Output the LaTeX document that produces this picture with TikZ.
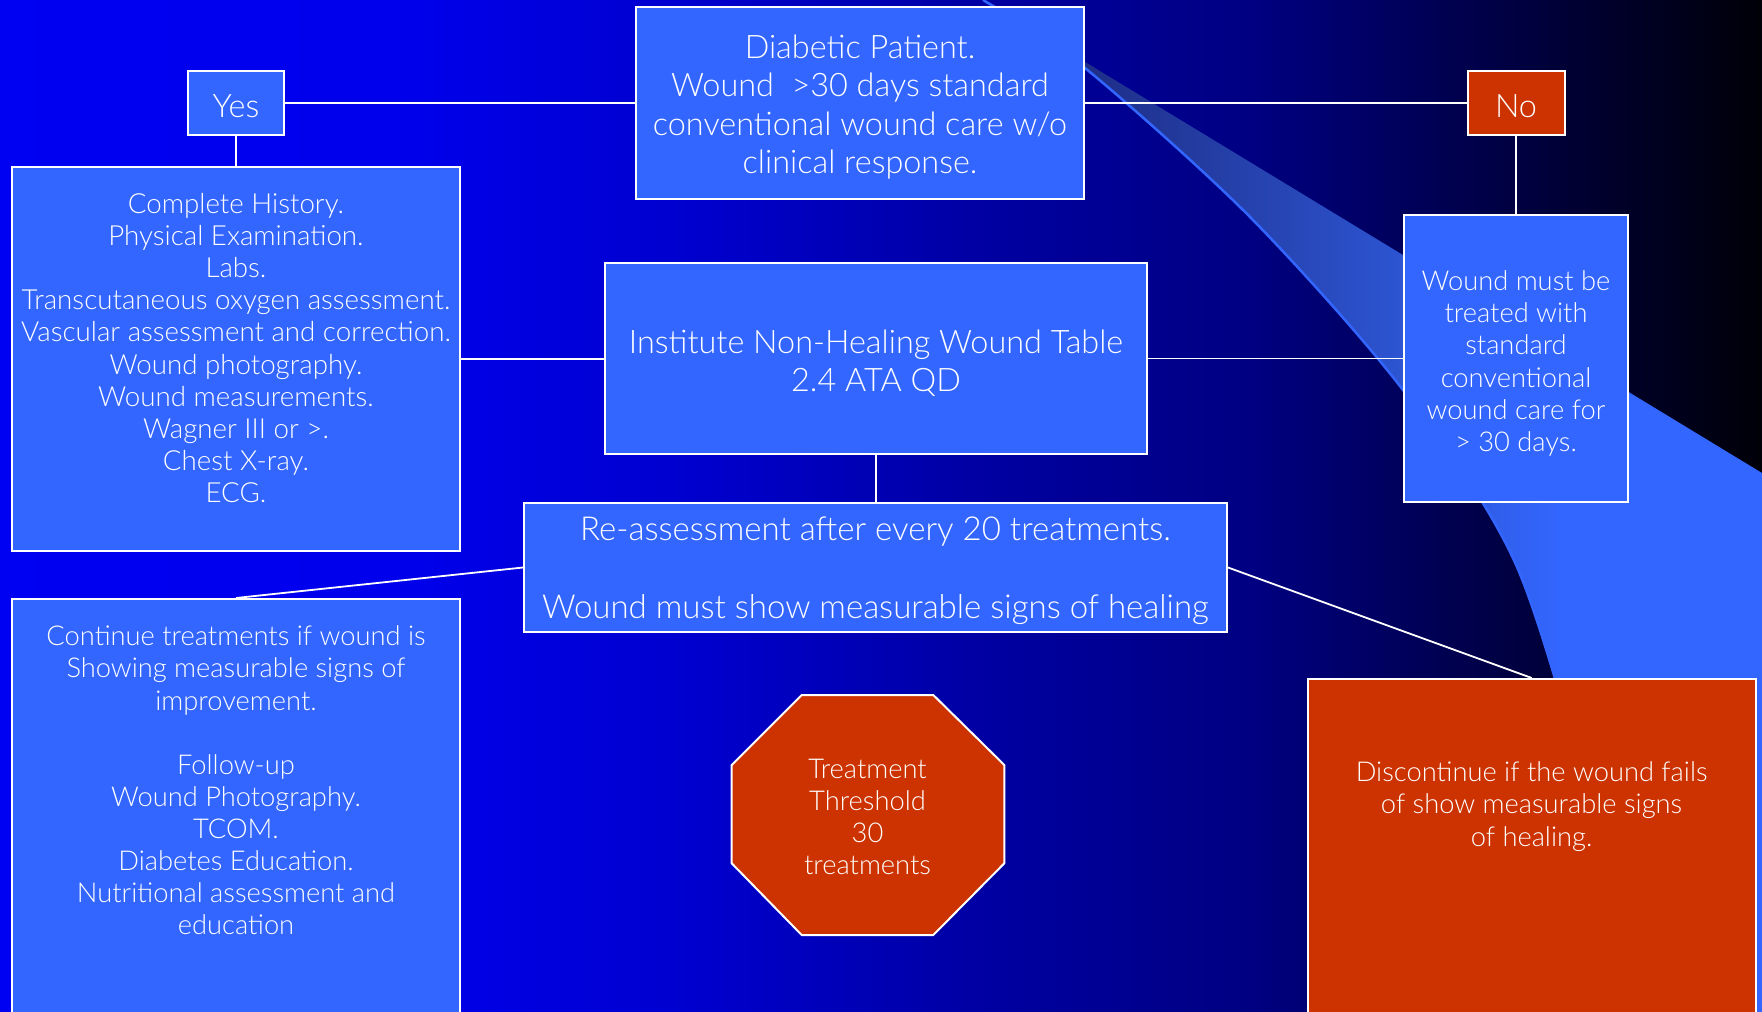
\documentclass[tikz,border=0pt]{standalone}
\usepackage{fontspec}
\setmainfont{Lato Light}
\usetikzlibrary{calc}
\definecolor{boxblue}{RGB}{51,102,255}
\definecolor{boxred}{RGB}{204,51,0}
\definecolor{bg0}{RGB}{0,0,242}
\definecolor{bg1}{RGB}{0,0,236}
\definecolor{bg2}{RGB}{0,0,205}
\definecolor{bg3}{RGB}{0,0,160}
\definecolor{bg4}{RGB}{0,0,130}
\definecolor{bg5}{RGB}{0,0,80}
\definecolor{bg6}{RGB}{0,0,8}
\definecolor{sw0}{RGB}{22,34,110}
\definecolor{sw1}{RGB}{30,46,135}
\definecolor{sw2}{RGB}{40,72,185}
\definecolor{sw3}{RGB}{47,90,222}
\definecolor{sw4}{RGB}{51,102,255}
\pgfdeclarehorizontalshading{bgshade}{100bp}{color(0bp)=(bg0); color(25bp)=(bg0); color(36.35bp)=(bg1); color(44.86bp)=(bg2); color(53.38bp)=(bg3); color(60.47bp)=(bg4); color(66.15bp)=(bg5); color(75bp)=(bg6); color(100bp)=(bg6)}
\pgfdeclarehorizontalshading{swshade}{100bp}{color(0bp)=(sw0); color(25bp)=(sw0); color(31.55bp)=(sw1); color(45.35bp)=(sw2); color(54.97bp)=(sw3); color(62.04bp)=(sw4); color(100bp)=(sw4)}
\tikzset{
  box/.style={draw=white, line width=2pt, fill=boxblue, inner sep=0pt},
  redbox/.style={box, fill=boxred},
  bigtxt/.style={font=\fontsize{32.4}{38.2}\selectfont},
  reasstxt/.style={font=\fontsize{33}{38.8}\selectfont},
  smalltxt/.style={font=\fontsize{27.3}{32.1}\selectfont},
  histtxt/.style={font=\fontsize{27.7}{32.1}\selectfont},
  txt/.style={text=white, align=center, inner sep=0pt},
  link/.style={draw=white, line width=1.8pt},
}
\begin{document}
\begin{tikzpicture}[x=1pt,y=-1pt]
\useasboundingbox (0,0) rectangle (1762,1012);
% background
\shade[shading=bgshade] (0,0) rectangle (1762,1012);
% swoosh
\begin{scope}
\clip plot[smooth] coordinates {(1640,1012) (1600,840) (1517,567) (1403,390) (1250,217) (1085,68) (983,0)} -- (1762,473) -- (1762,1012) -- cycle;
\shade[shading=swshade] (983,0) rectangle (1762,1012);
\end{scope}
\draw[boxblue, line width=2.5pt] plot[smooth] coordinates {(1640,1012) (1600,840) (1517,567) (1403,390) (1250,217) (1085,68) (983,0)};

% boxes
\node[box, minimum width=448pt, minimum height=192pt] (diab) at (860,103) {};
\node[box, minimum width=96pt, minimum height=64pt] (yes) at (236,103) {};
\node[redbox, minimum width=97pt, minimum height=64pt] (no) at (1516,103) {};
\node[box, minimum width=448pt, minimum height=384pt] (hist) at (236,359) {};
\node[box, minimum width=542pt, minimum height=191pt] (inst) at (876,358.5) {};
\node[box, minimum width=224pt, minimum height=287pt] (wmb) at (1516,358.5) {};
\node[box, minimum width=703pt, minimum height=129pt] (reass) at (875.5,567.5) {};
\node[box, minimum width=448pt, minimum height=426pt] (cont) at (236,812) {};
\node[redbox, minimum width=447.5pt, minimum height=346pt] (disc) at (1531.75,852) {};
\draw[white, line width=2pt, fill=boxred] (801.7,695) -- (933.3,695) -- (1004.3,765) -- (1004.3,863.3) -- (933.3,935) -- (801.7,935) -- (731.7,863.3) -- (731.7,765) -- cycle;

% connectors
\draw[link] (yes.east) -- (diab.west);
\draw[link] (diab.east) -- (no.west);
\draw[link] (yes.south) -- (hist.north);
\draw[link] (no.south) -- (wmb.north);
\draw[link] (hist.east) -- (hist.east -| inst.west);
\draw[link] (inst.east) -- (wmb.west);
\draw[link] (inst.south) -- (inst.south |- reass.north);
\draw[link] (reass.west) -- (cont.north);
\draw[link] (reass.east) -- (disc.north);

% texts
\node[txt, bigtxt] (diabtext) at (860,107) {Diabetic Patient.\\Wound \ >30 days standard\\conventional wound care w/o\\clinical response.};
\node[txt, bigtxt] (yestext) at (236,106) {Yes};
\node[txt, bigtxt] (notext) at (1516,106) {No};
\node[txt, bigtxt] (insttext) at (876,363.5) {Institute Non-Healing Wound Table\\2.4 ATA QD};
\node[txt, smalltxt] (wmbtext) at (1516,363.5) {Wound must be\\treated with\\standard\\conventional\\wound care for\\> 30 days.};
\node[txt, reasstxt] (reasstext) at (875.5,571) {Re-assessment after every 20 treatments.\\\mbox{}\\Wound must show measurable signs of healing};
\node[txt, histtxt] (histtext) at (236,348) {Complete History.\\Physical Examination.\\Labs.\\Transcutaneous oxygen assessment.\\Vascular assessment and correction.\\Wound photography.\\Wound measurements.\\Wagner III or >.\\Chest X-ray.\\ECG.};
\node[txt, smalltxt] (conttext) at (236,780.5) {Continue treatments if wound is\\Showing measurable signs of\\improvement.\\\mbox{}\\Follow-up\\Wound Photography.\\TCOM.\\Diabetes Education.\\Nutritional assessment and\\education};
\node[txt, smalltxt] (oct) at (867.5,817) {Treatment\\Threshold\\30\\treatments};
\node[txt, smalltxt] (disctext) at (1531.6,806.5) {Discontinue if the wound fails\\of show measurable signs\\of healing.};
\end{tikzpicture}
\end{document}
